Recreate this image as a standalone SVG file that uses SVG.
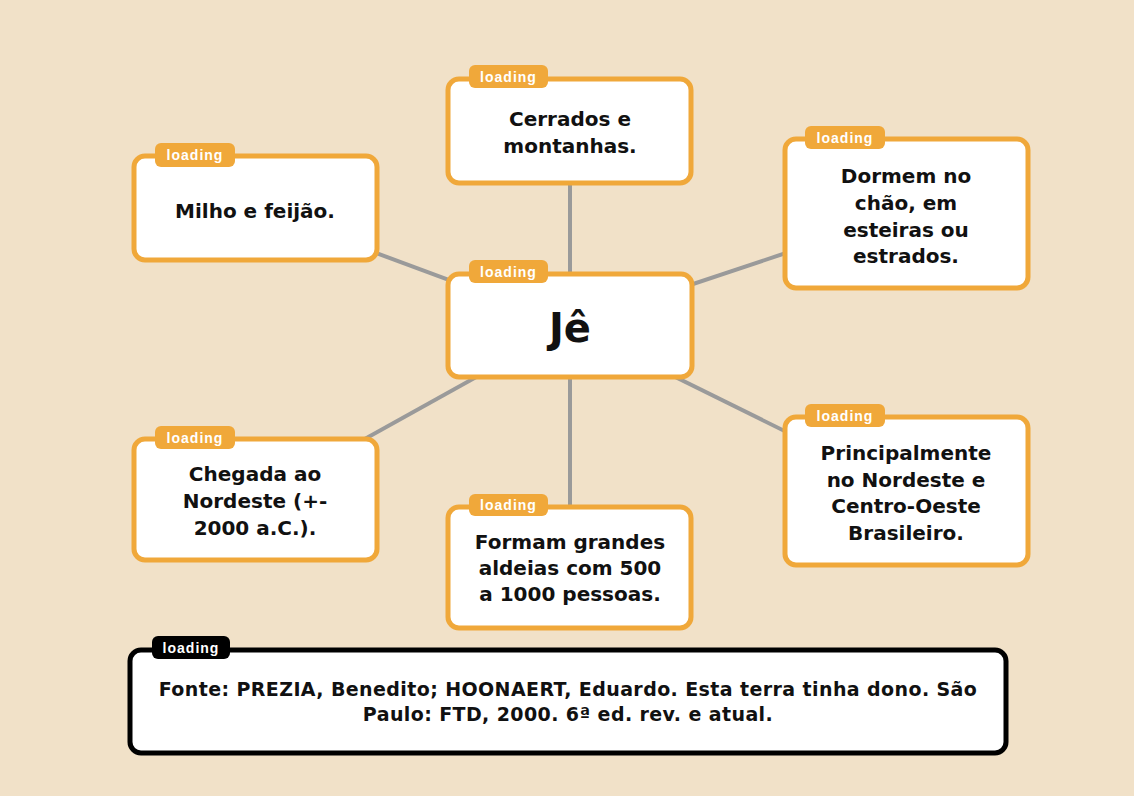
<svg xmlns="http://www.w3.org/2000/svg" width="1134" height="796" viewBox="0 0 1134 796">
<style>
.bg{fill:#F1E1C8}
.box{fill:#FFFFFF;stroke:#F0A83A;stroke-width:5}
.tag{fill:#F0A83A}
.tagk{fill:#000000}
.tagt{font-family:"Liberation Sans",Arial,sans-serif;font-weight:bold;font-size:14px;fill:#FFFFFF;text-anchor:middle;letter-spacing:1px}
.t{font-family:"DejaVu Sans",Verdana,sans-serif;font-weight:bold;font-size:20px;fill:#111111;text-anchor:middle}
.big{font-family:"DejaVu Sans",Verdana,sans-serif;font-weight:bold;font-size:40px;fill:#111111;text-anchor:middle}
.src{fill:#FFFFFF;stroke:#000000;stroke-width:5}
.st{font-family:"DejaVu Sans",Verdana,sans-serif;font-weight:bold;font-size:19px;fill:#111111;text-anchor:middle;letter-spacing:0.4px}
.ln{stroke:#9A9A9A;stroke-width:4;fill:none}
</style>
<rect class="bg" x="0" y="0" width="1134" height="796"/>
<g id="connectors">
<line class="ln" x1="570" y1="325" x2="570" y2="131"/>
<line class="ln" x1="570" y1="325" x2="255" y2="208"/>
<line class="ln" x1="570" y1="325" x2="906" y2="213"/>
<line class="ln" x1="570" y1="325" x2="906" y2="491"/>
<line class="ln" x1="570" y1="325" x2="255" y2="500"/>
<line class="ln" x1="570" y1="325" x2="570" y2="567"/>
</g>
<g id="node-top">
<rect class="box" x="448" y="79" width="243" height="104" rx="11"/>
<rect class="tag" x="469" y="65" width="79" height="23" rx="6"/>
<text class="tagt" x="508.5" y="82">loading</text>
<text class="t" x="570" y="126">Cerrados e</text>
<text class="t" x="570" y="153">montanhas.</text>
</g>
<g id="node-milho">
<rect class="box" x="134" y="156" width="243" height="104" rx="11"/>
<rect class="tag" x="155" y="143" width="80" height="24" rx="6"/>
<text class="tagt" x="195" y="160">loading</text>
<text class="t" x="255" y="218">Milho e feijão.</text>
</g>
<g id="node-dormem">
<rect class="box" x="785" y="139" width="243" height="149" rx="11"/>
<rect class="tag" x="805" y="126" width="80" height="23" rx="6"/>
<text class="tagt" x="845" y="143">loading</text>
<text class="t" x="906" y="183">Dormem no</text>
<text class="t" x="906" y="210">chão, em</text>
<text class="t" x="906" y="237">esteiras ou</text>
<text class="t" x="906" y="263">estrados.</text>
</g>
<g id="node-center">
<rect class="box" x="448" y="274" width="244" height="103" rx="11"/>
<rect class="tag" x="469" y="260" width="79" height="23" rx="6"/>
<text class="tagt" x="508.5" y="277">loading</text>
<text class="big" x="570" y="342">Jê</text>
</g>
<g id="node-principal">
<rect class="box" x="785" y="417" width="243" height="148" rx="11"/>
<rect class="tag" x="805" y="404" width="80" height="23" rx="6"/>
<text class="tagt" x="845" y="421">loading</text>
<text class="t" x="906" y="460">Principalmente</text>
<text class="t" x="906" y="487">no Nordeste e</text>
<text class="t" x="906" y="513">Centro-Oeste</text>
<text class="t" x="906" y="540">Brasileiro.</text>
</g>
<g id="node-chegada">
<rect class="box" x="134" y="439" width="243" height="121" rx="11"/>
<rect class="tag" x="155" y="426" width="80" height="23" rx="6"/>
<text class="tagt" x="195" y="443">loading</text>
<text class="t" x="255" y="481">Chegada ao</text>
<text class="t" x="255" y="508">Nordeste (+-</text>
<text class="t" x="255" y="535">2000 a.C.).</text>
</g>
<g id="node-formam">
<rect class="box" x="448" y="507" width="243" height="121" rx="11"/>
<rect class="tag" x="469" y="494" width="79" height="22" rx="6"/>
<text class="tagt" x="508.5" y="510">loading</text>
<text class="t" x="570" y="549">Formam grandes</text>
<text class="t" x="570" y="575">aldeias com 500</text>
<text class="t" x="570" y="601">a 1000 pessoas.</text>
</g>
<g id="node-fonte">
<rect class="src" x="130" y="650" width="876" height="103" rx="11"/>
<rect class="tagk" x="152" y="636" width="78" height="23" rx="6"/>
<text class="tagt" x="191" y="653">loading</text>
<text class="st" x="568" y="696">Fonte: PREZIA, Benedito; HOONAERT, Eduardo. Esta terra tinha dono. São</text>
<text class="st" x="568" y="721">Paulo: FTD, 2000. 6ª ed. rev. e atual.</text>
</g>
</svg>
